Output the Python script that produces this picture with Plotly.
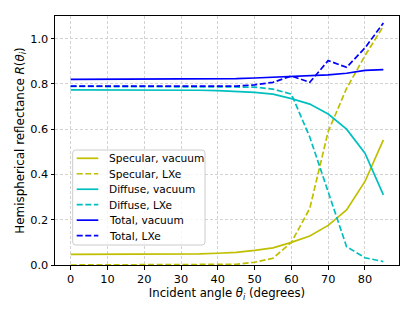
import plotly.graph_objects as go

angles = [0, 5, 10, 15, 20, 25, 30, 35, 40, 45, 50, 55, 60, 65, 70, 75, 80, 85]

specular_vacuum = [0.047, 0.047, 0.047, 0.047, 0.047, 0.047, 0.048, 0.049, 0.052, 0.056,
                   0.065, 0.076, 0.100, 0.128, 0.175, 0.243, 0.369, 0.553]
specular_lxe = [0.0, 0.0, 0.0, 0.0, 0.0, 0.0, 0.0, 0.0, 0.001, 0.003,
                0.012, 0.030, 0.100, 0.250, 0.590, 0.780, 0.925, 1.055]
diffuse_vacuum = [0.774, 0.774, 0.774, 0.774, 0.774, 0.774, 0.773, 0.772, 0.770, 0.767,
                  0.763, 0.755, 0.735, 0.711, 0.667, 0.600, 0.494, 0.310]
diffuse_lxe = [0.789, 0.789, 0.789, 0.789, 0.789, 0.789, 0.789, 0.789, 0.789, 0.789,
               0.786, 0.777, 0.755, 0.565, 0.320, 0.081, 0.032, 0.015]
total_vacuum = [0.820, 0.820, 0.820, 0.820, 0.820, 0.820, 0.820, 0.821, 0.822, 0.823,
                0.826, 0.830, 0.832, 0.835, 0.840, 0.847, 0.860, 0.863]
total_lxe = [0.790, 0.790, 0.790, 0.790, 0.790, 0.790, 0.790, 0.790, 0.790, 0.790,
             0.796, 0.807, 0.835, 0.807, 0.903, 0.873, 0.959, 1.069]

x_ticks = [0, 10, 20, 30, 40, 50, 60, 70, 80]
y_ticks = [0.0, 0.2, 0.4, 0.6, 0.8, 1.0]

series_names = ["Specular, vacuum", "Specular, LXe", "Diffuse, vacuum",
                "Diffuse, LXe", "Total, vacuum", "Total, LXe"]

YEL = "#bfbf00"
CYA = "#00bfbf"
BLU = "#0000ff"
DASH = "6px,2.6px"
FONT = "DejaVu Sans"
LW = 1.7

styles = [(YEL, "solid"), (YEL, DASH), (CYA, "solid"), (CYA, DASH), (BLU, "solid"), (BLU, DASH)]
values = [specular_vacuum, specular_lxe, diffuse_vacuum, diffuse_lxe, total_vacuum, total_lxe]

# plot-area geometry (pixels)
W, H = 415, 313
L, R, T, B = 55, 16, 16, 48
PW, PH = W - L - R, H - T - B


def px(x):
    return (x - L) / PW


def py(y):
    return (H - B - y) / PH


fig = go.Figure()
for name, vals, (col, dash) in zip(series_names, values, styles):
    fig.add_trace(go.Scatter(x=angles, y=vals, mode="lines", name=name, showlegend=False,
                             line=dict(color=col, width=LW, dash=dash)))

# legend drawn as a framed box (matplotlib-style)
bx0, bx1, by0, by1, rad = 72.7, 205.0, 150.0, 245.0, 3.0
path = (f"M {px(bx0 + rad)} {py(by0)} L {px(bx1 - rad)} {py(by0)} "
        f"Q {px(bx1)} {py(by0)} {px(bx1)} {py(by0 + rad)} "
        f"L {px(bx1)} {py(by1 - rad)} Q {px(bx1)} {py(by1)} {px(bx1 - rad)} {py(by1)} "
        f"L {px(bx0 + rad)} {py(by1)} Q {px(bx0)} {py(by1)} {px(bx0)} {py(by1 - rad)} "
        f"L {px(bx0)} {py(by0 + rad)} Q {px(bx0)} {py(by0)} {px(bx0 + rad)} {py(by0)} Z")
fig.add_shape(type="path", path=path, xref="paper", yref="paper",
              fillcolor="rgba(255,255,255,0.8)", line=dict(color="#cccccc", width=1), layer="above")

row0, row_step = 158.3, 15.47
for i, (name, (col, dash)) in enumerate(zip(series_names, styles)):
    yy = py(row0 + i * row_step)
    fig.add_shape(type="line", xref="paper", yref="paper", x0=px(76.7), x1=px(98.3), y0=yy, y1=yy,
                  line=dict(color=col, width=LW, dash=dash), layer="above")
    fig.add_annotation(x=px(106.7), y=yy, xref="paper", yref="paper", text=name,
                       showarrow=False, xanchor="left", yanchor="middle",
                       font=dict(family=FONT, size=10.6, color="black"))

axis_common = dict(
    showgrid=True, gridcolor="#d3d3d3", griddash="3px,2px", gridwidth=0.8,
    ticks="outside", ticklen=3.5, tickwidth=0.8, tickcolor="black",
    showline=True, linecolor="black", linewidth=1, mirror=True,
    zeroline=False, tickfont=dict(family=FONT, size=11.3, color="black"),
    automargin=False,
)

fig.update_layout(
    width=W, height=H,
    margin=dict(l=L, r=R, t=T, b=B),
    paper_bgcolor="white", plot_bgcolor="white",
    font=dict(family=FONT, size=11.3, color="black"),
    showlegend=False,
    xaxis=dict(range=[-4.25, 89.25], tickvals=x_ticks,
               title=dict(text="Incident angle <i>θ<sub>i</sub></i> (degrees)",
                          standoff=3, font=dict(family=FONT, size=11.7, color="black")),
               **axis_common),
    yaxis=dict(range=[0, 1.1], tickvals=y_ticks, tickformat=".1f",
               title=dict(text="Hemispherical reflectance <i>R</i>(<i>θ<sub>i</sub></i>)",
                          standoff=3, font=dict(family=FONT, size=11.9, color="black")),
               **axis_common),
)

fig.write_html("out.html", config={"displayModeBar": False},
               post_script="document.body.style.margin='0';document.body.style.overflow='hidden';")
